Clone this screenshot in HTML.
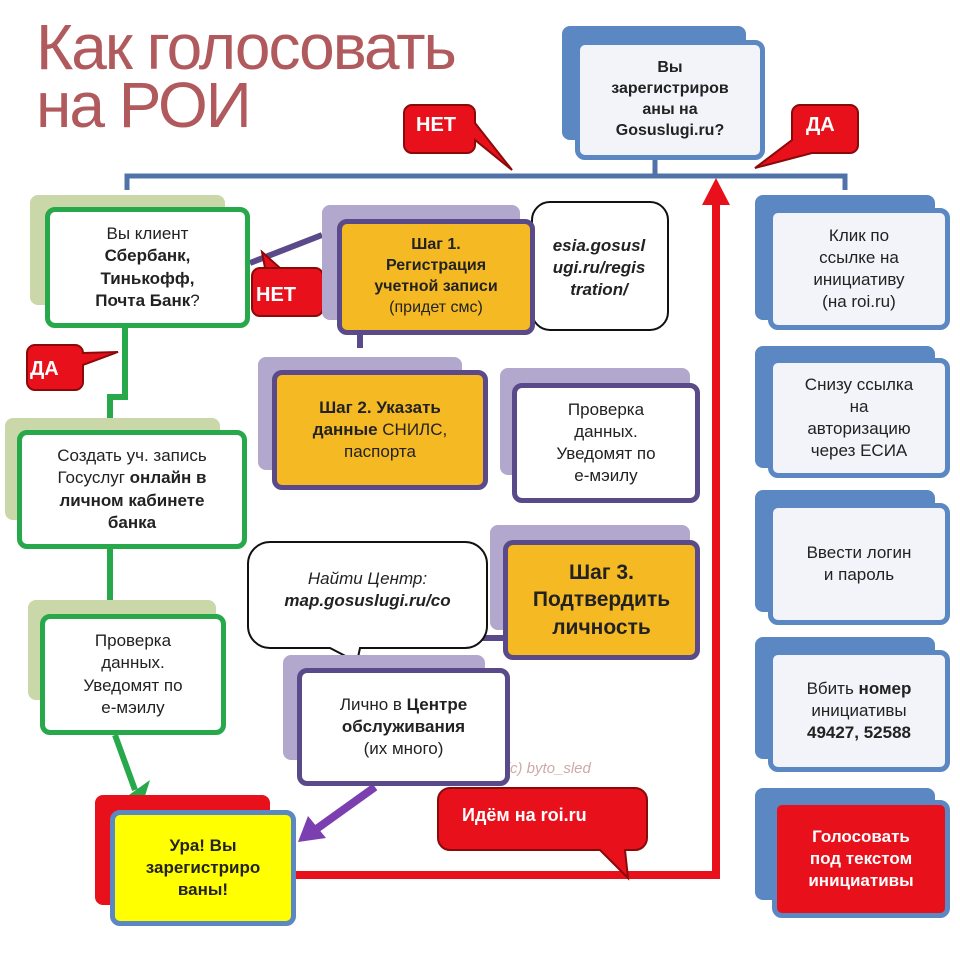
<!DOCTYPE html>
<html><head><meta charset="utf-8"><style>
body{margin:0;width:960px;height:956px;background:#fff;position:relative;overflow:hidden;font-family:"Liberation Sans","Noto Sans CJK SC",sans-serif;}
.a{position:absolute;box-sizing:border-box;}
.t{display:flex;align-items:center;justify-content:center;text-align:center;line-height:1.3;font-size:17px;color:#222;}
b{font-weight:bold}
.sg{background:#c9d7a9;border-radius:8px}
.g{border:5px solid #27a84a;background:#fff;border-radius:10px}
.sp{background:#b2a7cc;border-radius:8px}
.p{border:5px solid #5b4a89;border-radius:10px}
.o{background:#f5b923}
.sb{background:#5b87c2;border-radius:8px}
.bl{border:5px solid #5b87c2;background:#f2f4fa;border-radius:10px}
.r{background:#e8101b;border-radius:8px;color:#fff;font-weight:bold}
</style></head><body>
<svg class="a" style="left:0;top:0" width="960" height="956">
<g stroke="#4f73a8" stroke-width="5" fill="none">
<path d="M127 190 V176 H845 V190"/><path d="M655 160 V176"/>
</g>
<g stroke="#27a84a" stroke-width="6" fill="none">
<path d="M125 328 V397 H110 V432"/><path d="M110 548 V615"/>
<path d="M115 735 L135 790"/>
</g>
<polygon points="122,800 150,780 140,812" fill="#27a84a"/>
<g stroke="#5b4a89" stroke-width="6" fill="none">
<path d="M322 235 L250 263"/><path d="M360 335 V348"/><path d="M382 648 V638 H505"/>
</g>
<g stroke="#7b3fb0" stroke-width="8" fill="none"><path d="M375 787 L315 830"/></g>
<polygon points="298,842 308,816 326,838" fill="#7b3fb0"/>
<g stroke="#e8101b" stroke-width="8" fill="none"><path d="M295 875 H716 V200"/></g>
<polygon points="702,205 716,178 730,205" fill="#e8101b"/>
<g fill="#e8101b" stroke="#8a0a0a" stroke-width="2">
<path d="M412 105 h55 a8 8 0 0 1 8 8 v10 L512 170 L475 140 v5 a8 8 0 0 1 -8 8 h-55 a8 8 0 0 1 -8 -8 v-32 a8 8 0 0 1 8 -8z"/>
<path d="M800 105 h50 a8 8 0 0 1 8 8 v32 a8 8 0 0 1 -8 8 h-38 L755 168 L792 140 v-27 a8 8 0 0 1 8 -8z"/>
<path d="M260 268 h55 a8 8 0 0 1 8 8 v32 a8 8 0 0 1 -8 8 h-55 a8 8 0 0 1 -8 -8 v-32 a8 8 0 0 1 8 -8 h5 L262 252 L280 268z"/>
<path d="M35 345 h40 a8 8 0 0 1 8 8 v0 L118 352 L83 365 v17 a8 8 0 0 1 -8 8 h-40 a8 8 0 0 1 -8 -8 v-29 a8 8 0 0 1 8 -8z"/>
<path d="M450 788 h185 a12 12 0 0 1 12 12 v38 a12 12 0 0 1 -12 12 h-10 L628 878 L600 850 h-150 a12 12 0 0 1 -12 -12 v-38 a12 12 0 0 1 12 -12z"/>
</g>
<g fill="#fff" stroke="#111" stroke-width="2">
<path d="M550 202 h100 a18 18 0 0 1 18 18 v92 a18 18 0 0 1 -18 18 h-100 a18 18 0 0 1 -18 -18 v-50 L505 245 L532 238 v-18 a18 18 0 0 1 18 -18z"/>
<path d="M270 542 h195 a22 22 0 0 1 22 22 v62 a22 22 0 0 1 -22 22 h-105 L357 662 L330 648 h-60 a22 22 0 0 1 -22 -22 v-62 a22 22 0 0 1 22 -22z"/>
</g>
</svg>
<div class="a" style="left:36px;top:18px;font-size:64px;line-height:58px;color:#b05a5e;letter-spacing:-2px">Как голосовать<br>на РОИ</div>
<div class="a" style="left:416px;top:114px;color:#fff;font-weight:bold;font-size:20px">НЕТ</div>
<div class="a" style="left:806px;top:114px;color:#fff;font-weight:bold;font-size:20px">ДА</div>
<div class="a" style="left:256px;top:284px;color:#fff;font-weight:bold;font-size:20px">НЕТ</div>
<div class="a" style="left:30px;top:358px;color:#fff;font-weight:bold;font-size:20px">ДА</div>
<div class="a" style="left:462px;top:805px;color:#fff;font-weight:bold;font-size:18px">Идём на roi.ru</div>
<div class="a" style="left:505px;top:760px;color:#caa;font-size:15px;font-style:italic">(c) byto_sled</div>

<div class="a sb" style="left:562px;top:26px;width:184px;height:114px"></div>
<div class="a bl t" style="left:575px;top:40px;width:190px;height:120px;font-weight:bold;font-size:16px"><div>Вы<br>зарегистриров<br>аны на<br>Gosuslugi.ru?</div></div>

<div class="a sg" style="left:30px;top:195px;width:195px;height:110px"></div>
<div class="a g t" style="left:45px;top:207px;width:205px;height:121px"><div>Вы клиент<br><b>Сбербанк,<br>Тинькофф,<br>Почта Банк</b>?</div></div>
<div class="a sg" style="left:5px;top:418px;width:215px;height:102px"></div>
<div class="a g t" style="left:17px;top:430px;width:230px;height:119px"><div>Создать уч. запись<br>Госуслуг <b>онлайн в<br>личном кабинете<br>банка</b></div></div>
<div class="a sg" style="left:28px;top:600px;width:188px;height:100px"></div>
<div class="a g t" style="left:40px;top:614px;width:186px;height:121px"><div>Проверка<br>данных.<br>Уведомят по<br>е-мэилу</div></div>
<div class="a r" style="left:95px;top:795px;width:175px;height:110px"></div>
<div class="a t" style="left:110px;top:810px;width:186px;height:116px;background:#ffff00;border:5px solid #5b87c2;border-radius:10px;font-weight:bold"><div>Ура! Вы<br>зарегистриро<br>ваны!</div></div>

<div class="a sp" style="left:322px;top:205px;width:198px;height:115px"></div>
<div class="a p o t" style="left:337px;top:219px;width:198px;height:116px;font-size:16px"><div><b>Шаг 1.<br>Регистрация<br>учетной записи</b><br>(придет смс)</div></div>
<div class="a t" style="left:536px;top:222px;width:126px;height:92px;font-weight:bold;font-style:italic;font-size:17px"><div>esia.gosusl<br>ugi.ru/regis<br>tration/</div></div>
<div class="a sp" style="left:258px;top:357px;width:204px;height:113px"></div>
<div class="a p o t" style="left:272px;top:370px;width:216px;height:120px"><div><b>Шаг 2. Указать<br>данные</b> СНИЛС,<br>паспорта</div></div>
<div class="a sp" style="left:500px;top:368px;width:190px;height:107px"></div>
<div class="a p t" style="left:512px;top:383px;width:188px;height:120px;background:#fff"><div>Проверка<br>данных.<br>Уведомят по<br>е-мэилу</div></div>
<div class="a sp" style="left:490px;top:525px;width:200px;height:105px"></div>
<div class="a p o t" style="left:503px;top:540px;width:197px;height:120px;font-weight:bold;font-size:21px"><div>Шаг 3.<br>Подтвердить<br>личность</div></div>
<div class="a t" style="left:255px;top:555px;width:225px;height:70px;font-style:italic;font-size:17px"><div>Найти Центр:<br><b>map.gosuslugi.ru/co</b></div></div>
<div class="a sp" style="left:283px;top:655px;width:202px;height:105px"></div>
<div class="a p t" style="left:297px;top:668px;width:213px;height:118px;background:#fff"><div>Лично в <b>Центре обслуживания</b><br>(их много)</div></div>

<div class="a sb" style="left:755px;top:195px;width:180px;height:125px"></div>
<div class="a bl t" style="left:768px;top:208px;width:182px;height:122px"><div>Клик по<br>ссылке на<br>инициативу<br>(на roi.ru)</div></div>
<div class="a sb" style="left:755px;top:346px;width:180px;height:122px"></div>
<div class="a bl t" style="left:768px;top:358px;width:182px;height:120px"><div>Снизу ссылка<br>на<br>авторизацию<br>через ЕСИА</div></div>
<div class="a sb" style="left:755px;top:490px;width:180px;height:122px"></div>
<div class="a bl t" style="left:768px;top:503px;width:182px;height:122px"><div>Ввести логин<br>и пароль</div></div>
<div class="a sb" style="left:755px;top:637px;width:180px;height:122px"></div>
<div class="a bl t" style="left:768px;top:650px;width:182px;height:122px"><div>Вбить <b>номер</b><br>инициативы<br><b>49427, 52588</b></div></div>
<div class="a sb" style="left:755px;top:788px;width:180px;height:112px"></div>
<div class="a t" style="left:772px;top:800px;width:178px;height:118px;background:#e8101b;border:5px solid #5b87c2;border-radius:10px;color:#fff;font-weight:bold"><div>Голосовать<br>под текстом<br>инициативы</div></div>
</body></html>
